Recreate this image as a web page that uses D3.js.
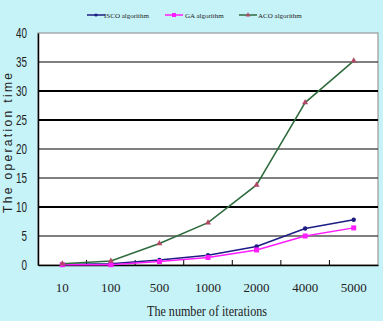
<!DOCTYPE html>
<html><head><meta charset="utf-8">
<script src="https://cdn.jsdelivr.net/npm/d3@7"></script>
<style>body{margin:0;background:#c6f3f7;}svg{display:block}</style>
</head><body><svg id="c" width="383" height="321"></svg>
<script>
const categories = ["10","100","500","1000","2000","4000","5000"];
const isco = [0.1, 0.2, 0.85, 1.7, 3.2, 6.3, 7.8];
const ga = [0.05, 0.05, 0.6, 1.3, 2.6, 5.0, 6.4];
const aco = [0.2, 0.7, 3.7, 7.3, 13.8, 28.0, 35.2];
const yTicks = [0,5,10,15,20,25,30,35,40];
const seriesNames = ["ISCO algorithm","GA algorithm","ACO algorithm"];
const colors = ["#1c1c84","#ff1cff","#2e6b3c"];

const svg = d3.select("#c");
const m = {l:38, r:378, t:33, b:265};
const x = d3.scaleBand().domain(categories).range([m.l, m.r]);
const y = d3.scaleLinear().domain([0,40]).range([m.b, m.t]);

svg.append("rect").attr("x",m.l).attr("y",m.t).attr("width",m.r-m.l).attr("height",m.b-m.t)
  .attr("fill","#fff").attr("stroke","#999").attr("stroke-width",1.2);

// gridlines
svg.append("g").selectAll("line").data(yTicks.filter(d=>d>0&&d<40)).join("line")
  .attr("x1",m.l).attr("x2",m.r).attr("y1",d=>y(d)).attr("y2",d=>y(d))
  .attr("stroke","#000").attr("stroke-width",d=>(d===10||d===25||d===30)?1.8:1.1);

// y axis
const ya = svg.append("g").attr("transform",`translate(${m.l},0)`)
  .call(d3.axisLeft(y).tickValues(yTicks).tickSize(0).tickPadding(11));
ya.select(".domain").attr("stroke","#000").attr("stroke-width",1.5);
ya.selectAll(".tick text").attr("font-family","Liberation Sans, sans-serif").attr("font-size",14)
  .attr("fill","#222")
  .attr("textLength", function(){return d3.select(this).text().length*5.5;})
  .attr("lengthAdjust","spacingAndGlyphs");

// x axis
const xa = svg.append("g").attr("transform",`translate(0,${m.b})`)
  .call(d3.axisBottom(x).tickSize(0).tickPadding(18));
xa.select(".domain").attr("stroke","#000").attr("stroke-width",1.5);
xa.selectAll("text").attr("font-family","Liberation Serif, serif").attr("font-size",13).attr("fill","#222");
// inward ticks at band boundaries
const bounds = categories.slice(1).map(c=>x(c));
svg.append("g").selectAll("line").data(bounds).join("line")
  .attr("x1",d=>d).attr("x2",d=>d).attr("y1",m.b).attr("y2",m.b-5)
  .attr("stroke","#000").attr("stroke-width",1);

// lines
const line = d3.line().x((d,i)=>x(categories[i])+x.bandwidth()/2).y(d=>y(d));
const data = [isco, ga, aco];
data.forEach((s,k)=>{
  svg.append("path").datum(s).attr("d",line).attr("fill","none")
    .attr("stroke",colors[k]).attr("stroke-width",1.5);
});
// markers
svg.append("g").selectAll("circle").data(isco).join("circle")
  .attr("cx",(d,i)=>x(categories[i])+x.bandwidth()/2).attr("cy",d=>y(d)).attr("r",2.2).attr("fill",colors[0]);
svg.append("g").selectAll("rect").data(ga).join("rect")
  .attr("x",(d,i)=>x(categories[i])+x.bandwidth()/2-2.5).attr("y",d=>y(d)-2.5)
  .attr("width",5).attr("height",5).attr("fill",colors[1]);
const tri = d3.symbol().type(d3.symbolTriangle).size(16);
svg.append("g").selectAll("path").data(aco).join("path")
  .attr("d",tri).attr("transform",(d,i)=>`translate(${x(categories[i])+x.bandwidth()/2},${y(d)})`)
  .attr("fill","#b04a66");

// legend
const lg = [{x:87,tx:104},{x:165,tx:185},{x:239,tx:258}];
seriesNames.forEach((n,k)=>{
  const g = svg.append("g");
  g.append("line").attr("x1",lg[k].x).attr("x2",lg[k].x+18).attr("y1",15).attr("y2",15)
    .attr("stroke",colors[k]).attr("stroke-width",1.5);
  const cx = lg[k].x+9;
  if(k===0) g.append("circle").attr("cx",cx).attr("cy",15).attr("r",1.6).attr("fill",colors[0]);
  if(k===1) g.append("rect").attr("x",cx-2).attr("y",13).attr("width",4).attr("height",4).attr("fill",colors[1]);
  if(k===2) g.append("path").attr("d",d3.symbol().type(d3.symbolTriangle).size(10)).attr("transform",`translate(${cx},15)`).attr("fill","#b04a66");
  g.append("text").attr("x",lg[k].tx).attr("y",17.5).attr("font-family","Liberation Serif, serif")
    .attr("font-size",7).attr("fill","#222").text(n);
});

// axis titles
svg.append("text").attr("transform","translate(12,143) rotate(-90)").attr("text-anchor","middle")
  .attr("font-family","Liberation Sans, sans-serif").attr("font-size",12)
  .attr("textLength",140).attr("lengthAdjust","spacing")
  .attr("fill","#222").text("The operation time");
svg.append("text").attr("x",207).attr("y",316).attr("text-anchor","middle")
  .attr("font-family","Liberation Serif, serif").attr("font-size",14).attr("fill","#222")
  .attr("textLength",120).attr("lengthAdjust","spacingAndGlyphs")
  .text("The number of iterations");
</script></body></html>
